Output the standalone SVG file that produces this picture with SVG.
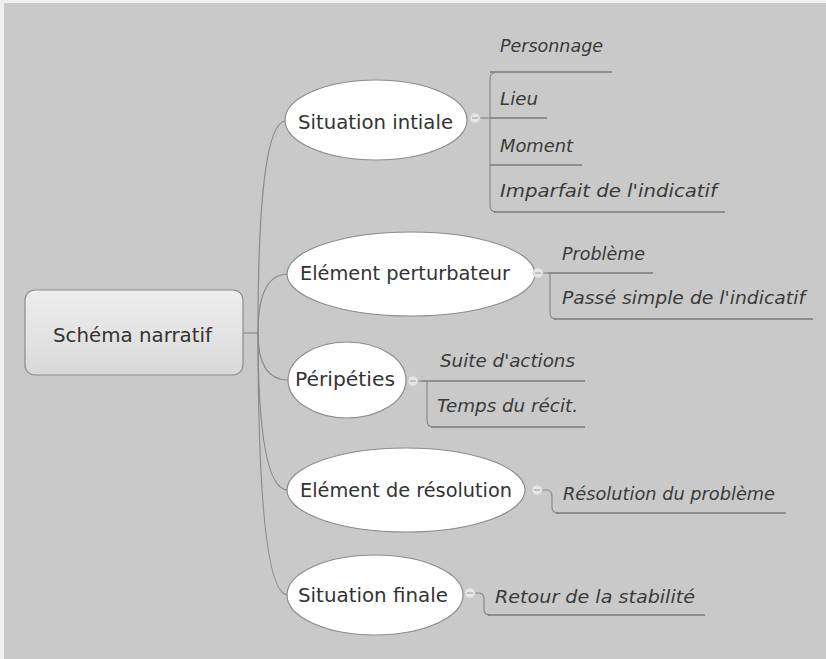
<svg xmlns="http://www.w3.org/2000/svg" width="826" height="659" viewBox="0 0 826 659">
<defs>
<linearGradient id="rootGrad" x1="0" y1="0" x2="0" y2="1">
<stop offset="0" stop-color="#eeeeee"/>
<stop offset="1" stop-color="#d9d9d9"/>
</linearGradient>
</defs>
<style>
.bg{fill:#c9c9c9}
.frame{fill:#efefef}
.ell{fill:#ffffff;stroke:#8c8c8c;stroke-width:1.2}
.root{fill:url(#rootGrad);stroke:#8c8c8c;stroke-width:1.2}
.con{fill:none;stroke:#8a8a8a;stroke-width:1.2}
.ul{fill:none;stroke:#7a7a7a;stroke-width:1.3}
.mk{fill:#e6e6e6;stroke:#d2d2d2;stroke-width:1}
.mkl{stroke:#a8a8a8;stroke-width:1.2}
.t{font-family:"DejaVu Sans","Liberation Sans",sans-serif;font-size:19px;fill:#333333}
.c{font-family:"DejaVu Sans","Liberation Sans",sans-serif;font-size:17px;font-style:italic;fill:#3a3a3a}
</style>
<rect class="bg" x="0" y="0" width="826" height="659"/>
<rect class="frame" x="0" y="0" width="826" height="3"/>
<rect class="frame" x="0" y="0" width="4" height="659"/>

<g id="connectors">
<path class="con" d="M243,333 H258"/>
<path class="con" d="M258,333 Q258,121 286,121"/>
<path class="con" d="M258,333 Q258,274 288,274"/>
<path class="con" d="M258,333 Q258,380 288,380"/>
<path class="con" d="M258,333 Q258,490 288,490"/>
<path class="con" d="M258,333 Q258,595 288,595"/>
<path class="con" d="M478,118 H490"/>
<path class="ul" d="M490,72 H612"/>
<path class="con" d="M494,73 Q490,73 490,80 V205 Q490,212 496,212"/>
<path class="ul" d="M490,118 H547"/>
<path class="ul" d="M490,165 H582"/>
<path class="ul" d="M494,212 H725"/>
<path class="con" d="M541,273 H548"/>
<path class="ul" d="M548,273 H653"/>
<path class="con" d="M550,273 V312 Q550,319 556,319"/>
<path class="ul" d="M554,319 H813"/>
<path class="con" d="M417,381 H422"/>
<path class="ul" d="M422,381 H585"/>
<path class="con" d="M427,381 V420 Q427,427 433,427"/>
<path class="ul" d="M431,427 H585"/>
<path class="con" d="M542,490 H547 Q552,490 552,497 V507 Q552,513 558,513"/>
<path class="ul" d="M556,513 H786"/>
<path class="con" d="M474,593 H479 Q484,593 484,600 V609 Q484,615 490,615"/>
<path class="ul" d="M488,615 H705"/>
</g>

<g id="root">
<rect class="root" x="25" y="290" width="218" height="85" rx="10"/>
<text class="t" x="53" y="342" textLength="159" lengthAdjust="spacingAndGlyphs">Schéma narratif</text>
</g>

<g id="situation-initiale">
<ellipse class="ell" cx="376" cy="120" rx="91" ry="40"/>
<text class="t" x="298" y="129" textLength="155" lengthAdjust="spacingAndGlyphs">Situation intiale</text>
<circle class="mk" cx="475" cy="118" r="5"/>
<line class="mkl" x1="472" y1="118" x2="478" y2="118"/>
</g>
<g id="personnage"><text class="c" x="500" y="52" textLength="103" lengthAdjust="spacingAndGlyphs">Personnage</text></g>
<g id="lieu"><text class="c" x="500" y="105" textLength="38" lengthAdjust="spacingAndGlyphs">Lieu</text></g>
<g id="moment"><text class="c" x="500" y="152" textLength="73" lengthAdjust="spacingAndGlyphs">Moment</text></g>
<g id="imparfait"><text class="c" x="500" y="197" textLength="217" lengthAdjust="spacingAndGlyphs">Imparfait de l'indicatif</text></g>

<g id="element-perturbateur">
<ellipse class="ell" cx="411" cy="274" rx="124" ry="42"/>
<text class="t" x="300" y="280" textLength="210" lengthAdjust="spacingAndGlyphs">Elément perturbateur</text>
<circle class="mk" cx="538" cy="273" r="5"/>
<line class="mkl" x1="535" y1="273" x2="541" y2="273"/>
</g>
<g id="probleme"><text class="c" x="562" y="260" textLength="83" lengthAdjust="spacingAndGlyphs">Problème</text></g>
<g id="passe-simple"><text class="c" x="562" y="304" textLength="243" lengthAdjust="spacingAndGlyphs">Passé simple de l'indicatif</text></g>

<g id="peripeties">
<ellipse class="ell" cx="347" cy="380" rx="59" ry="38"/>
<text class="t" x="295" y="386" textLength="100" lengthAdjust="spacingAndGlyphs">Péripéties</text>
<circle class="mk" cx="413" cy="381" r="5"/>
<line class="mkl" x1="410" y1="381" x2="416" y2="381"/>
</g>
<g id="suite-actions"><text class="c" x="440" y="367" textLength="135" lengthAdjust="spacingAndGlyphs">Suite d'actions</text></g>
<g id="temps-recit"><text class="c" x="437" y="412" textLength="141" lengthAdjust="spacingAndGlyphs">Temps du récit.</text></g>

<g id="element-resolution">
<ellipse class="ell" cx="406" cy="490" rx="119" ry="42"/>
<text class="t" x="300" y="497" textLength="212" lengthAdjust="spacingAndGlyphs">Elément de résolution</text>
<circle class="mk" cx="537" cy="490" r="5"/>
<line class="mkl" x1="534" y1="490" x2="540" y2="490"/>
</g>
<g id="resolution-probleme"><text class="c" x="563" y="500" textLength="212" lengthAdjust="spacingAndGlyphs">Résolution du problème</text></g>

<g id="situation-finale">
<ellipse class="ell" cx="375" cy="595" rx="88" ry="40"/>
<text class="t" x="298" y="602" textLength="150" lengthAdjust="spacingAndGlyphs">Situation finale</text>
<circle class="mk" cx="470" cy="593" r="5"/>
<line class="mkl" x1="467" y1="593" x2="473" y2="593"/>
</g>
<g id="retour-stabilite"><text class="c" x="495" y="603" textLength="200" lengthAdjust="spacingAndGlyphs">Retour de la stabilité</text></g>
</svg>
